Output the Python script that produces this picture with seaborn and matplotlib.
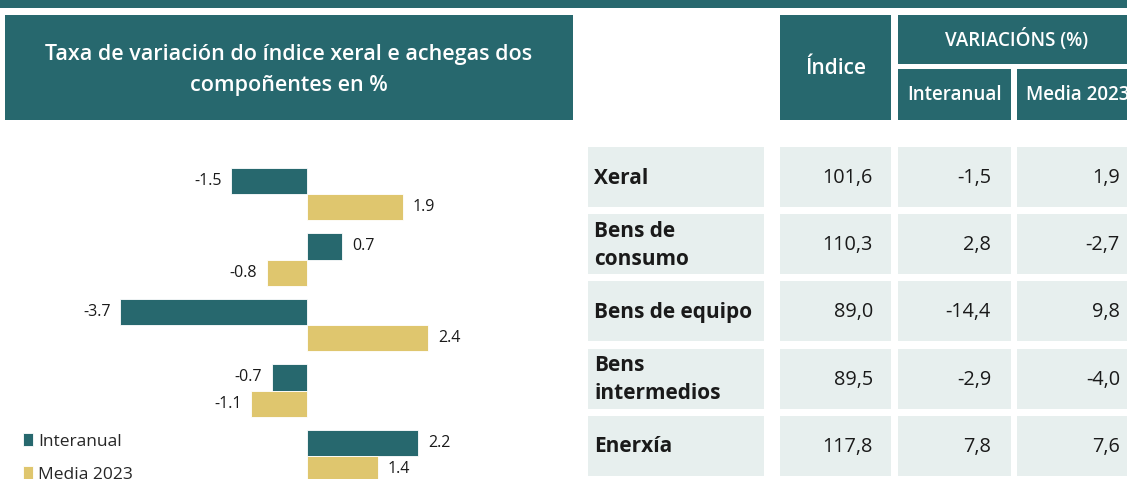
import numpy as np
import pandas as pd
import matplotlib
matplotlib.use('Agg')
import matplotlib.pyplot as plt
from matplotlib.patches import Rectangle
import seaborn as sns

# data
categories = ['Xeral', 'Bens de consumo', 'Bens de equipo', 'Bens intermedios', 'Enerxía']
row_labels = ['Xeral', 'Bens de\nconsumo', 'Bens de equipo', 'Bens\nintermedios', 'Enerxía']
bar_interanual = [-1.5, 0.7, -3.7, -0.7, 2.2]
bar_media = [1.9, -0.8, 2.4, -1.1, 1.4]
tab_indice = [101.6, 110.3, 89.0, 89.5, 117.8]
tab_interanual = [-1.5, 2.8, -14.4, -2.9, 7.8]
tab_media = [1.9, -2.7, 9.8, -4.0, 7.6]
series = ['Interanual', 'Media 2023']
title = 'Taxa de variación do índice xeral e achegas dos\ncompoñentes en %'

TEAL = '#27686e'
GOLD = '#dfc66e'
CELL = '#e7efee'
W, H = 1127, 479

sns.set_theme(style='white')
plt.rcParams['font.family'] = ['Open Sans', 'DejaVu Sans']

fig = plt.figure(figsize=(W / 100, H / 100), dpi=100)

# overlay axes in pixel units for header boxes and table
ov = fig.add_axes([0, 0, 1, 1])
ov.set_xlim(0, W)
ov.set_ylim(H, 0)
ov.axis('off')

ov.add_patch(Rectangle((0, 0), W, 8, color=TEAL, lw=0))
ov.add_patch(Rectangle((5, 15), 568, 105, color=TEAL, lw=0))
ov.text(289, 70, title, color='white', fontsize=15.5, fontweight='semibold',
        ha='center', va='center', linespacing=1.65)

# table header
ov.add_patch(Rectangle((780, 15), 111, 105, color=TEAL, lw=0))
ov.text(835.5, 68, 'Índice', color='white', fontsize=15, fontweight='semibold', ha='center', va='center')
ov.add_patch(Rectangle((898, 15), 240, 49, color=TEAL, lw=0))
ov.text(1017, 40, 'VARIACIÓNS (%)', color='white', fontsize=13.5, fontweight='semibold', ha='center', va='center')
ov.add_patch(Rectangle((898, 69), 113, 51, color=TEAL, lw=0))
ov.text(954.5, 95, 'Interanual', color='white', fontsize=13.5, fontweight='semibold', ha='center', va='center')
ov.add_patch(Rectangle((1017, 69), 121, 51, color=TEAL, lw=0))
ov.text(1026, 95, 'Media 2023', color='white', fontsize=13.5, fontweight='semibold', ha='left', va='center')

# table body
col_edges = [(588, 764), (780, 891), (898, 1011), (1017, 1138)]
value_right = [873, 991, 1120]
fmt = lambda v: f'{v:.1f}'.replace('.', ',')
for i, lab in enumerate(row_labels):
    top = 147 + 67.2 * i
    for x0, x1 in col_edges:
        ov.add_patch(Rectangle((x0, top), x1 - x0, 60, color=CELL, lw=0))
    ov.text(594, top + 31, lab, fontsize=15, fontweight='bold', color='#1a1a1a',
            ha='left', va='center', linespacing=1.45)
    for vals, xr in zip([tab_indice, tab_interanual, tab_media], value_right):
        ov.text(xr, top + 31, fmt(vals[i]), fontsize=14.3, color='#1a1a1a', ha='right', va='center')

# bar chart
df = pd.DataFrame({
    'cat': categories * 2,
    'serie': [series[0]] * 5 + [series[1]] * 5,
    'val': bar_interanual + bar_media,
})
ax = fig.add_axes([5 / W, 0, 568 / W, 339 / H])
sns.barplot(data=df, y='cat', x='val', hue='serie', palette=[TEAL, GOLD], saturation=1,
            orient='h', width=0.8, edgecolor='white', linewidth=0.6, ax=ax)
ax.set_xlim(-302 / 50.5, 266 / 50.5)
ax.set_ylim((479 - 194) / 65.5, -(194 - 140) / 65.5)
for c in ax.containers:
    ax.bar_label(c, labels=[f'{v:.1f}' for v in c.datavalues], padding=7,
                 fontsize=11.5, color='#1a1a1a')
ax.axis('off')
ax.legend(loc='upper left', bbox_to_anchor=(18 / 568, 1 - 293 / 339), frameon=False,
          fontsize=12.5, handlelength=0.55, handleheight=0.8, handletextpad=0.3,
          labelspacing=0.95, borderaxespad=0, borderpad=0)

plt.savefig('out.png', dpi=100)
plt.close()
